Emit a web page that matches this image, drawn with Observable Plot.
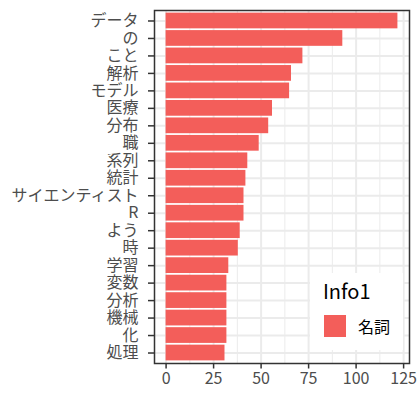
<!DOCTYPE html>
<html>
<head>
<meta charset="utf-8">
<script src="https://cdn.jsdelivr.net/npm/d3@7"></script>
<script src="https://cdn.jsdelivr.net/npm/@observablehq/plot@0.6"></script>
<style>
  html, body { margin: 0; padding: 0; background: white; }
  #wrap { position: relative; width: 420px; height: 400px; font-family: "Noto Sans CJK JP", "Noto Sans", sans-serif; }
  #legend { position: absolute; left: 310px; top: 273px; width: 93px; height: 77px; background: white; }
  #legend .title { position: absolute; left: 13px; top: 8px; font-size: 20px; line-height: 20px; color: #000; }
  #legend .key { position: absolute; left: 14px; top: 42px; width: 22px; height: 22px; }
  #legend .lab { position: absolute; left: 48px; top: 44px; font-size: 16px; line-height: 18px; color: #000; }
</style>
</head>
<body>
<div id="wrap"></div>
<script>
const words = ["データ","の","こと","解析","モデル","医療","分布","職","系列","統計","サイエンティスト","R","よう","時","学習","変数","分析","機械","化","処理"];
const counts = [122,93,72,66,65,56,54,49,43,42,41,41,39,38,33,32,32,32,32,31];
const info1 = "名詞";
const legendTitle = "Info1";
const barColor = "#F35E5A";
const xTicks = [0,25,50,75,100,125];
const xMinor = [12.5,37.5,62.5,87.5,112.5];

const data = words.map((w, i) => ({word: w, n: counts[i], info: info1}));
const maxN = d3.max(counts);
const pad = maxN * 0.05;

const chart = Plot.plot({
  width: 420,
  height: 400,
  marginLeft: 154,
  marginRight: 11,
  marginTop: 10,
  marginBottom: 37,
  style: {fontFamily: "'Noto Sans CJK JP', 'Noto Sans', sans-serif", fontSize: "16px", color: "#4D4D4D", background: "white"},
  x: {domain: [-pad, maxN + pad], label: null},
  y: {domain: words, paddingInner: 0.1, paddingOuter: 0.15, round: false, label: null},
  marks: [
    Plot.gridX(xMinor, {stroke: "#EBEBEB", strokeOpacity: 1, strokeWidth: 1}),
    Plot.gridX(xTicks, {stroke: "#EBEBEB", strokeOpacity: 1, strokeWidth: 2}),
    Plot.gridY(words, {stroke: "#EBEBEB", strokeOpacity: 1, strokeWidth: 2}),
    Plot.barX(data, {x: "n", y: "word", fill: barColor}),
    Plot.frame({stroke: "#333333", strokeWidth: 1.5}),
    Plot.axisX(xTicks, {tickSize: 5.5, tickPadding: 4, stroke: "#333333", strokeWidth: 1.5, fill: "#4D4D4D", fontSize: 16, label: null}),
    Plot.axisY(words, {tickSize: 6, tickPadding: 10, stroke: "#333333", strokeWidth: 1.5, fill: "#4D4D4D", fontSize: 16, label: null})
  ]
});

const wrap = document.getElementById("wrap");
wrap.appendChild(chart);

const legend = document.createElement("div");
legend.id = "legend";
const t = document.createElement("div");
t.className = "title";
t.textContent = legendTitle;
const k = document.createElement("div");
k.className = "key";
k.style.background = barColor;
const l = document.createElement("div");
l.className = "lab";
l.textContent = info1;
legend.append(t, k, l);
wrap.appendChild(legend);
</script>
</body>
</html>
